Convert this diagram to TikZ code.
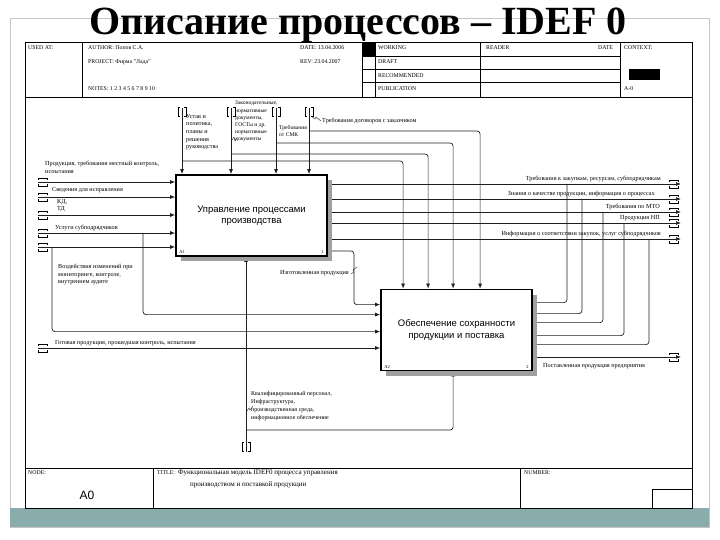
\documentclass[tikz,border=0pt]{standalone}
\usepackage{fontspec}
\setmainfont{Liberation Serif}
\setsansfont{Liberation Sans}
\usetikzlibrary{arrows.meta, positioning, backgrounds, calc, shadows}
\definecolor{bandfill}{HTML}{8AACAC}
\definecolor{framegray}{HTML}{C4C4C4}
\definecolor{shadowgray}{HTML}{A0A0A0}
\definecolor{inkline}{HTML}{1E1E1E}
\tikzset{
  func/.style  = {rectangle, draw=black, line width=1.8pt, fill=white, align=center,
                  font=\sffamily\fontsize{9.5}{11.5}\selectfont,
                  minimum width=151pt, minimum height=81pt,
                  general shadow={fill=shadowgray, shadow xshift=5pt, shadow yshift=-5pt}},
  tiny/.style  = {font=\fontsize{6.2}{7.6}\selectfont, inner sep=0pt, align=left},
  form/.style  = {font=\fontsize{5.8}{7}\selectfont, inner sep=0pt, anchor=west},
  flow/.style  = {-{Latex[length=5pt, width=4pt]}, line width=0.7pt, draw=inkline,
                  rounded corners=3pt},
  wire/.style  = {line width=0.7pt, draw=inkline, rounded corners=3pt},
  squig/.style = {line width=0.4pt, draw=inkline},
  tunv/.pic    = {\draw[line width=0.5pt] (-2,0) -- (-4,0) -- (-4,9) -- (-2,9)
                    (2,0) -- (4,0) -- (4,9) -- (2,9);},
  tunh/.pic    = {\draw[line width=0.5pt] (0,-2) -- (0,-4) -- (9,-4) -- (9,-2)
                    (0,2) -- (0,4) -- (9,4) -- (9,2);},
}

\begin{document}
\begin{tikzpicture}[x=1pt, y=-1pt]
\useasboundingbox (0,0) rectangle (720,540);
\draw[framegray, line width=0.6pt] (10,18) rectangle (709,527);
\fill[bandfill] (10,508) rectangle (709,527);
\node[font=\bfseries\fontsize{40}{40}\selectfont, inner sep=0pt] (title) at (358,25)
  {Описание процессов – IDEF 0};

% form
\draw[line width=0.9pt] (25,42) rectangle (692,508);
\draw[line width=0.6pt] (25,97) -- (692,97) (25,468) -- (692,468);
\draw[line width=0.6pt] (82,42) -- (82,97) (362,42) -- (362,97) (375,42) -- (375,97)
  (480,42) -- (480,97) (620,42) -- (620,97);
\draw[line width=0.6pt] (362,56) -- (620,56) (362,69) -- (620,69) (362,82) -- (620,82);
\fill (362,42) rectangle (375,56);
\fill (629,69) rectangle (660,80);
\draw[line width=0.6pt] (153,468) -- (153,508) (520,468) -- (520,508);
\draw[line width=0.6pt] (652,489) rectangle (692,508);

\node[form] (usedat) at (28,48) {USED AT:};
\node[form] (author) at (88,48) {AUTHOR: Попов С.А.};
\node[form] (date) at (300,48) {DATE: 13.04.2006};
\node[form] (project) at (88,62) {PROJECT: Фирма "Лада"};
\node[form] (rev) at (300,62) {REV: 23.04.2007};
\node[form] (notes) at (88,89) {NOTES: 1 2 3 4 5 6 7 8 9 10};
\node[form] (working) at (378,48) {WORKING};
\node[form] (draft) at (378,62) {DRAFT};
\node[form] (recomm) at (378,76) {RECOMMENDED};
\node[form] (public) at (378,89) {PUBLICATION};
\node[form] (reader) at (486,48) {READER};
\node[form] (rdate) at (598,48) {DATE};
\node[form] (context) at (624,48) {CONTEXT:};
\node[form] (ctxnode) at (624,89) {A-0};
\node[form] (nodelbl) at (28,473) {NODE:};
\node[font=\sffamily\fontsize{12}{12}\selectfont, inner sep=0pt] (nodeid) at (87,495) {A0};
\node[form] (titlelbl) at (157,473) {TITLE:};
\node[form, anchor=north west, align=left, font=\fontsize{7}{12}\selectfont] (titletxt)
  at (178,470) {Функциональная модель IDEF0 процесса управления\\
  \hspace*{12pt}производством и поставкой продукции};
\node[form] (number) at (524,473) {NUMBER:};

% functions
\node[func] (a1) at (251.5,215.5) {Управление процессами\\производства};
\node[func] (a2) at (456.5,330) {Обеспечение сохранности\\продукции и поставка};
\node[tiny, anchor=south west, font=\fontsize{4.5}{5}\selectfont] (a1n) at ([shift={(4,-3)}]a1.south west) {A1};
\node[tiny, anchor=south east, font=\fontsize{4.5}{5}\selectfont] (a1k) at ([shift={(-4,-3)}]a1.south east) {1};
\node[tiny, anchor=south west, font=\fontsize{4.5}{5}\selectfont] (a2n) at ([shift={(4,-3)}]a2.south west) {A2};
\node[tiny, anchor=south east, font=\fontsize{4.5}{5}\selectfont] (a2k) at ([shift={(-4,-3)}]a2.south east) {2};

% tunnel ends
\coordinate (c1) at (182,108);
\coordinate (c2) at (231,108);
\coordinate (c3) at (276,108);
\coordinate (c4) at (309,108);
\coordinate (i1) at (38,182);
\coordinate (i2) at (38,197);
\coordinate (i3) at (38,215);
\coordinate (i4) at (38,233);
\coordinate (i5) at (38,247);
\coordinate (i6) at (38,348);
\coordinate (r1) at (681,184);
\coordinate (r2) at (681,199);
\coordinate (r3) at (681,212);
\coordinate (r4) at (681,223);
\coordinate (r5) at (681,239);
\coordinate (r6) at (681,357);
\coordinate (m1) at (246,452);

\begin{scope}[on background layer]
\foreach \c in {c1,c2,c3,c4}
  \draw[flow] (\c) -- (\c |- a1.north);
\draw[flow] ($(c1)+(0,53)$) -| ($(a2.north west)+(23,0)$);
\draw[flow] ($(c2)+(0,46)$) -| ($(a2.north west)+(48,0)$);
\draw[flow] ($(c3)+(0,35)$) -| ($(a2.north west)+(73,0)$);
\draw[flow] ($(c4)+(0,23)$) -| ($(a2.north west)+(100,0)$);

\foreach \i in {i1,i2,i3,i4,i5}
  \draw[flow] (\i) -- (\i -| a1.west);
\draw[flow] (i6) -- (i6 -| a2.west);
\draw[flow] ($(i4)+(105,0)$) |- ($(a2.north west)+(0,26)$);
\draw[flow] ($(i5)+(14,0)$) |- ($(a2.north west)+(0,43)$);
\draw[flow] ($(a1.south east)+(0,-6)$) -| ++(26,27) |- ($(a2.north west)+(0,16)$);

\foreach \r in {r1,r2,r3,r4,r5}
  \draw[flow] (\r -| a1.east) -- (\r);
\draw[flow] (r6 -| a2.east) -- (r6);
\foreach \dy/\r/\dx in {14/r1/-114, 25/r2/-99, 34/r3/-78, 47/r4/-57, 56/r5/-32}
  \draw[wire] ($(a2.north east)+(0,\dy)$) -| ($(\r)+(\dx,0)$);

\draw[flow] (m1) -- (m1 |- a1.south);
\draw[flow] ($(m1)+(0,-22)$) -| ($(a2.south west)+(73,0)$);
\end{scope}

\foreach \c in {c1,c2,c3,c4}
  \pic at ($(\c)+(0,-1)$) {tunv};
\pic at ($(m1)+(0,-10)$) {tunv};
\foreach \i in {i1,i2,i3,i4,i5,i6}
  \pic at (\i) {tunh};
\foreach \r in {r1,r2,r3,r4,r5,r6}
  \pic at ($(\r)+(-12,0)$) {tunh};

% labels
\node[tiny, anchor=north west] (lc1) at (186,114)
  {Устав и\\политика,\\планы и\\решения\\руководства};
\node[tiny, anchor=north west, font=\fontsize{5.6}{7.2}\selectfont] (lc2) at (235,101)
  {Законодательные,\\нормативные\\документы,\\ГОСТы и др.\\нормативные\\документы};
\draw[squig] (232,140) -- ++(2,-3) -- ++(1,4) -- ++(2,-3);
\node[tiny, anchor=north west, font=\fontsize{5.6}{7.2}\selectfont] (lc3) at (279,125)
  {Требования\\от СМК};
\node[tiny, anchor=west] (lc4) at (322,121) {Требования договоров с заказчиком};
\draw[squig] (311,116) -- ++(4,3) -- ++(1,-2) -- ++(5,4);

\node[tiny, anchor=north west] (li1) at (45,161)
  {Продукция, требования местный контроль,\\испытания};
\node[tiny, anchor=south west] (li2) at (52,193) {Сведения для исправления};
\node[tiny, anchor=north west] (li3) at (57,199) {КД,\\ТД};
\node[tiny, anchor=south west] (li4) at (55,231) {Услуги субподрядчиков};
\node[tiny, anchor=north west] (li5) at (58,264)
  {Воздействия изменений при\\мониторинге, контроле,\\внутреннем аудите};
\node[tiny, anchor=south west] (li6) at (55,346)
  {Готовая продукция, прошедшая контроль, испытания};

\node[tiny, anchor=east] (lp) at (349,273) {Изготовленная продукция};
\draw[squig] (351,274) -- ++(3,-2) -- ++(-1,-2) -- ++(4,-3);

\node[tiny, anchor=south east] (lo1) at (661,182)
  {Требования к закупкам, ресурсам, субподрядчикам};
\node[tiny, anchor=south east] (lo2) at (655,197)
  {Знания о качестве продукции, информация о процессах};
\node[tiny, anchor=south east] (lo3) at (660,210) {Требования по МТО};
\node[tiny, anchor=south east] (lo4) at (660,221) {Продукция НП};
\node[tiny, anchor=south east] (lo5) at (661,237)
  {Информация о соответствии закупок, услуг субподрядчиков};
\node[tiny, anchor=north west] (lo6) at (543,363) {Поставленная продукция предприятия};

\node[tiny, anchor=north west, font=\fontsize{6}{8}\selectfont] (lm1) at (251,391)
  {Квалифицированный персонал,\\Инфраструктура,\\производственная среда,\\информационное обеспечение};
\draw[squig] (247,411) -- ++(2,-3) -- ++(1,2) -- ++(3,-4);
\end{tikzpicture}
\end{document}
